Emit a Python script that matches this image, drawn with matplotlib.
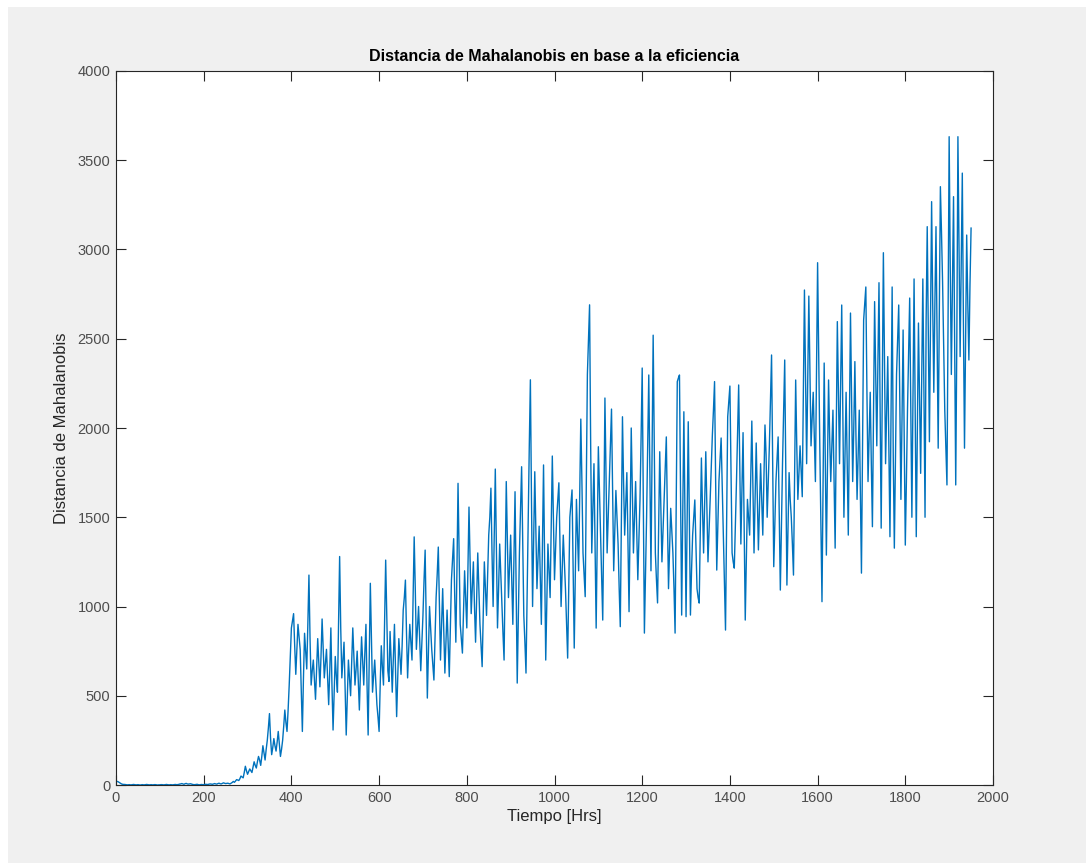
import numpy as np
import matplotlib
matplotlib.use("Agg")
import matplotlib.pyplot as plt
from matplotlib.patches import Rectangle

# Mahalanobis distance.
# peaks_*: one value every 5 hrs (mostly the swings),
# band_*: the value half way between them (inside the band)
peaks_flat = [22, 18, 10, 4, 3, 1, 2, 1, 3, 1,
              2, 0, 2, 1, 3, 1, 2, 1, 2, 0,
              1, 2, 1, 3, 1, 2, 1, 3, 2, 5,
              8, 4, 9, 5, 7, 3, 2, 4, 1, 3,
              2, 4, 3, 6, 4, 8, 5, 10, 6, 12,
              8, 10, 6, 14]
band_flat = [20, 14, 6, 3, 2, 1, 1, 2, 2, 1,
             1, 1, 1, 2, 2, 1, 1, 2, 1, 1,
             2, 1, 2, 2, 1, 1, 2, 2, 3, 6,
             6, 7, 6, 6, 5, 2, 3, 2, 2, 2,
             3, 3, 5, 5, 6, 6, 8, 7, 9, 10,
             9, 8, 10, 20]

peaks_rise = [15, 30, 25, 50, 40, 105, 60, 90, 70, 130,
              95, 160, 110, 220, 140, 250, 400, 170, 260, 190,
              300, 160, 250, 420, 300, 560]
band_rise = [22, 28, 35, 45, 70, 80, 75, 80, 100, 110,
             130, 140, 160, 180, 200, 320, 260, 210, 220, 240,
             230, 200, 330, 350, 420, 720]

peaks_jump = [880, 960, 620, 900, 760, 300, 850, 650, 1176, 560]
band_jump = [920, 780, 760, 830, 520, 600, 750, 900, 820, 640]

peaks_plateau = [700, 480, 820, 550, 930, 600, 760, 450, 880, 308,
                 720, 520, 1280, 600, 800, 280, 700, 500, 880, 560,
                 750, 420, 830, 560, 900, 280, 1130, 520, 700, 450,
                 300]
band_plateau = [590, 650, 680, 720, 760, 680, 600, 640, 560, 520,
                610, 900, 880, 700, 540, 480, 600, 690, 720, 650,
                580, 640, 700, 740, 560, 700, 820, 610, 570, 380,
                560]

peaks_climb1 = [780, 560, 1260, 640, 860, 520, 900, 383, 820, 620,
                980, 1148, 600, 900, 700, 1390, 760, 1000, 640, 950,
                1316, 487, 1000, 760, 588, 1050, 1333, 700, 1100, 627,
                980, 607, 1150, 1380]
band_climb1 = [660, 900, 950, 580, 700, 710, 640, 600, 720, 780,
               1050, 850, 760, 800, 1050, 1100, 880, 820, 790, 1150,
               900, 740, 880, 670, 820, 1180, 1000, 900, 860, 800,
               790, 880, 1260, 1050]

peaks_climb2 = [800, 1690, 900, 739, 1200, 880, 1557, 960, 1250, 800,
                1300, 900, 663, 1250, 950, 1400, 1663, 1000, 1770, 880,
                1350, 1000, 700, 1700, 1050, 1400, 900, 1643, 571, 1300,
                1783, 950, 627, 1500, 2270, 1000, 1755, 1100, 1450, 900,
                1793, 700, 1350, 1050, 1843, 1150, 1500, 1693, 1000, 1400,
                1100, 711, 1500, 1653, 767, 1600, 1200, 2050, 1300, 1055,
                2300, 2690, 1300, 1800, 879, 1895, 1400, 924]
band_climb2 = [1200, 1300, 820, 970, 1040, 1200, 1250, 1100, 1000, 1050,
               1100, 780, 950, 1100, 1180, 1500, 1300, 1390, 1320, 1100,
               1180, 850, 1200, 1380, 1230, 1150, 1270, 1100, 930, 1550,
               1360, 800, 1060, 1900, 1600, 1380, 1420, 1280, 1180, 1350,
               1250, 1020, 1200, 1450, 1500, 1320, 1600, 1350, 1200, 1250,
               900, 1100, 1580, 1200, 1180, 1400, 1620, 1700, 1180, 1700,
               2500, 1900, 1550, 1340, 1400, 1650, 1150, 1500]

peaks_middle = [2168, 1300, 1700, 2106, 1200, 1650, 1350, 887, 2063, 1400,
                1750, 971, 2000, 1300, 1700, 1150, 1600, 2336, 851, 1500,
                2297, 1200, 2520, 1300, 1020, 1867, 1250, 1600, 1950, 1100,
                1550, 1300, 851, 2260, 2297, 952, 2091, 943, 2035, 952,
                1400, 1597, 1100, 1019, 1832, 1300, 1867, 1250, 1600, 1960,
                2260, 1204, 1700, 1944, 1400, 868, 2063, 2235, 1300, 1215,
                1700, 2241, 1350, 1974, 924, 1600, 1400, 2039, 1300, 1916,
                1317, 1800, 1400, 2017]
band_middle = [1730, 1500, 1900, 1650, 1420, 1500, 1100, 1480, 1700, 1580,
               1350, 1480, 1650, 1500, 1420, 1380, 1950, 1600, 1180, 1900,
               1750, 1850, 1900, 1150, 1450, 1550, 1420, 1780, 1500, 1320,
               1420, 1100, 1550, 2280, 1600, 1500, 1500, 1480, 1500, 1200,
               1500, 1350, 1050, 1420, 1550, 1580, 1560, 1420, 1780, 2100,
               1700, 1450, 1820, 1670, 1100, 1450, 2150, 1750, 1250, 1450,
               1980, 1800, 1650, 1450, 1250, 1500, 1720, 1680, 1600, 1620,
               1550, 1600, 1700, 1850]

peaks_late = [1500, 1900, 2409, 1223, 1700, 1950, 1092, 1800, 2381, 1120,
              1750, 1500, 1176, 2269, 1600, 1900, 1615, 2773, 1800, 2739,
              1900, 2200, 1700, 2926, 1900, 1027, 2364, 1288, 2269, 1700,
              2100, 1327, 2596, 1800, 2689, 1500, 2200, 1400, 2644, 1700,
              2372, 1600, 2100, 1187, 2605, 2790, 1700, 2200, 1447, 2708,
              1900, 2814, 1439, 2982, 1800, 2400, 1391, 2790, 1327, 2300,
              2689, 1600, 2549, 1344, 2100, 2728, 1500, 2835, 1391, 2588,
              1746, 2835, 1500]
band_late = [1700, 2150, 1800, 1450, 1820, 1500, 1450, 2100, 1750, 1450,
             1600, 1350, 1700, 1900, 1750, 1750, 2200, 2300, 2250, 2300,
             2050, 1950, 2300, 2400, 1450, 1700, 1800, 1800, 1950, 1900,
             1700, 1950, 2200, 2250, 2100, 1850, 1800, 2000, 2150, 2000,
             1950, 1850, 1650, 1900, 2700, 2200, 1950, 1800, 2100, 2300,
             2350, 2100, 2200, 2400, 2100, 1900, 2100, 1850, 1800, 2500,
             2150, 2050, 1950, 1700, 2400, 2100, 2150, 2100, 2000, 2150,
             2300, 2200, 2600]

peaks_end = [3128, 1923, 3268, 2200, 3128, 1887, 3352, 2820, 2100, 1681,
             3632, 2300, 3296, 1681, 3632, 2400, 3428, 1887, 3081, 2381,
             3120]
band_end = [2500, 2600, 2700, 2700, 2500, 2600, 3100, 2450, 1900, 2600,
            2900, 2800, 2500, 2500, 3000, 2900, 2600, 2500, 2700, 2800]

peaks = (peaks_flat + peaks_rise + peaks_jump + peaks_plateau + peaks_climb1
         + peaks_climb2 + peaks_middle + peaks_late + peaks_end)
band = (band_flat + band_rise + band_jump + band_plateau + band_climb1
        + band_climb2 + band_middle + band_late + band_end)

distance = np.empty(len(peaks) + len(band))
distance[0::2] = peaks
distance[1::2] = band
hours = np.arange(len(distance)) * 2.5

x_ticks = [0, 200, 400, 600, 800, 1000, 1200, 1400, 1600, 1800, 2000]
y_ticks = [0, 500, 1000, 1500, 2000, 2500, 3000, 3500, 4000]

plt.rcParams['font.family'] = ['Liberation Sans', 'DejaVu Sans']

fig = plt.figure(figsize=(10.86, 8.63), dpi=100, facecolor='white')
fig.patches.append(Rectangle((8 / 1086, 0), 1 - 8 / 1086, 1 - 7 / 863,
                             transform=fig.transFigure, facecolor='#f0f0f0',
                             edgecolor='none', zorder=-10))

ax = fig.add_axes([116 / 1086, 78 / 863, 877 / 1086, 714 / 863])
ax.plot(hours, distance, color='#0072BD', linewidth=1.0)

ax.set_xlim(0, 2000)
ax.set_ylim(0, 4000)
ax.set_xticks(x_ticks)
ax.set_yticks(y_ticks)
ax.tick_params(direction='in', length=7, width=0.8, top=True, right=True,
               labelsize=10.5, colors='#262626', labelcolor='#4d4d4d', pad=4)
for spine in ax.spines.values():
    spine.set_color('#262626')
    spine.set_linewidth(0.8)

ax.set_title('Distancia de Mahalanobis en base a la eficiencia',
             fontsize=11.5, fontweight='bold', color='black', pad=7)
ax.set_xlabel('Tiempo [Hrs]', fontsize=12, color='#262626', labelpad=3)
ax.set_ylabel('Distancia de Mahalanobis', fontsize=12, color='#262626', labelpad=6)

fig.savefig('out.png', dpi=100, facecolor=fig.get_facecolor())
